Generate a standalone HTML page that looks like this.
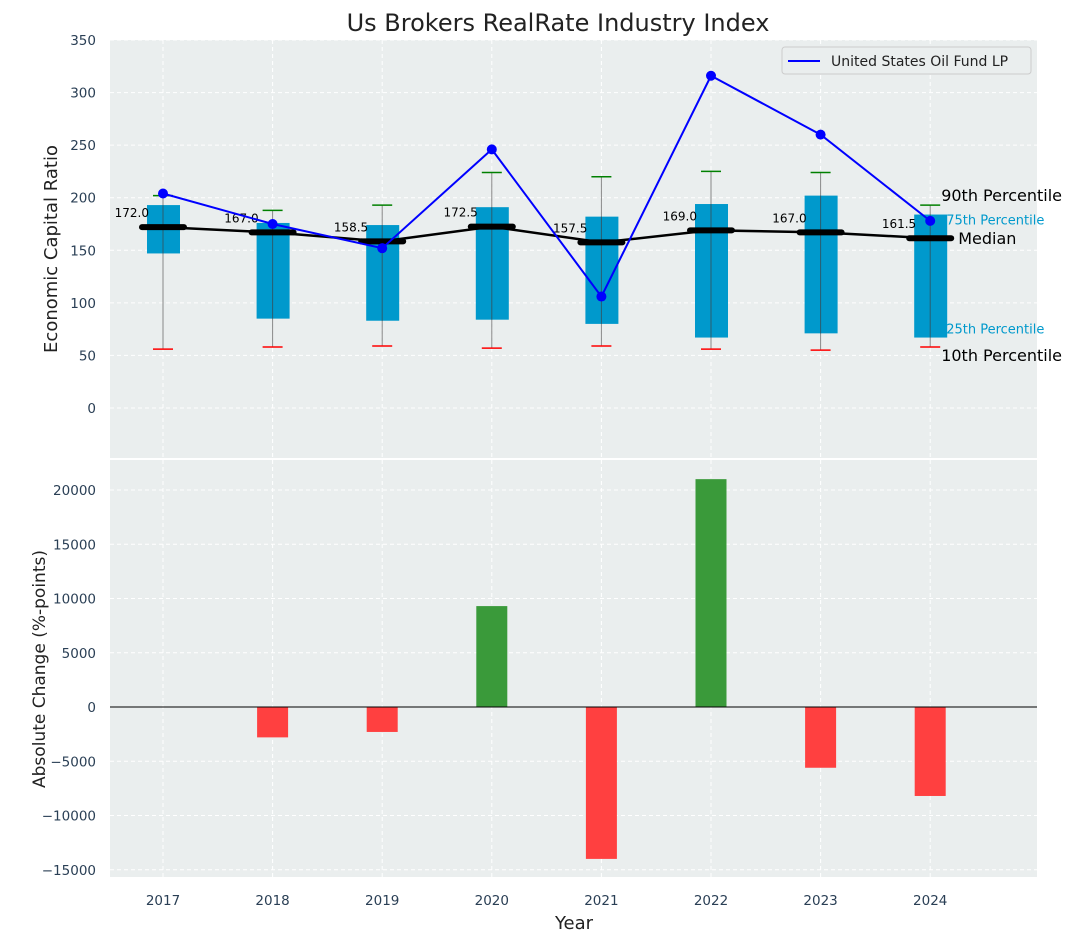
<!DOCTYPE html>
<html><head><meta charset="utf-8"><style>
body{margin:0;background:#fff;font-family:"Liberation Sans","DejaVu Sans",sans-serif}
svg text{font-family:"DejaVu Sans","Liberation Sans",sans-serif}
</style></head><body>
<svg id="c" width="1076" height="942" xmlns="http://www.w3.org/2000/svg"></svg>
<script>
const years=[2017,2018,2019,2020,2021,2022,2023,2024];
const p10=[56,58,59,57,59,56,55,58];
const p25=[147,85,83,84,80,67,71,67];
const med=[172,167,158.5,172.5,157.5,169,167,161.5];
const p75=[193,176,174,191,182,194,202,184];
const p90=[202,188,193,224,220,225,224,193];
const fund=[204,175,152,246,106,316,260,178];
const change=[0,-2800,-2300,9300,-14000,21000,-5600,-8200];
const yTicksTop=[0,50,100,150,200,250,300,350];
const yTicksBot=[-15000,-10000,-5000,0,5000,10000,15000,20000];

const S=document.getElementById('c');const NS='http://www.w3.org/2000/svg';
function el(t,a,p){const e=document.createElementNS(NS,t);for(const k in a)e.setAttribute(k,a[k]);(p||S).appendChild(e);return e;}
const L=110,R=1037;
const x=y=>163+(y-2017)*109.6;
const yt=v=>408-v*1.0514;
const yb=v=>707-v*0.01085;

let r=el('rect',{x:L,y:40,width:R-L,height:418,fill:'#eaeeee'});

r=el('rect',{x:L,y:460,width:R-L,height:417,fill:'#eaeeee'});


yTicksTop.forEach(v=>{el('line',{x1:L,x2:R,y1:yt(v),y2:yt(v),stroke:'#fff','stroke-dasharray':'4,3'});
 const t=el('text',{x:96,y:yt(v)+5,'text-anchor':'end','font-size':13.5,fill:'#2a3f55'});t.textContent=v;
 });
yTicksBot.forEach(v=>{el('line',{x1:L,x2:R,y1:yb(v),y2:yb(v),stroke:'#fff','stroke-dasharray':'4,3'});
 const t=el('text',{x:96,y:yb(v)+5,'text-anchor':'end','font-size':13.5,fill:'#2a3f55'});t.textContent=v<0?'\u2212'+(-v):v;
 });
years.forEach(y=>{el('line',{x1:x(y),x2:x(y),y1:40,y2:458,stroke:'#fff','stroke-dasharray':'4,3'});
 el('line',{x1:x(y),x2:x(y),y1:460,y2:877,stroke:'#fff','stroke-dasharray':'4,3'});
 const t=el('text',{x:x(y),y:905,'text-anchor':'middle','font-size':13.5,fill:'#2a3f55'});t.textContent=y;
 });

years.forEach((y,i)=>{const cx=x(y);
 let w=el('line',{x1:cx,x2:cx,y1:yt(p10[i]),y2:yt(p90[i]),stroke:'#888','stroke-width':1});
 
 let b=el('rect',{x:cx-16,y:yt(p75[i]),width:33,height:yt(p25[i])-yt(p75[i]),fill:'#0099cc'});
 
 el('line',{x1:cx,x2:cx,y1:yt(p75[i]),y2:yt(p25[i]),stroke:'#2b5d6e','stroke-width':1});
 el('line',{x1:cx-10,x2:cx+10,y1:yt(p90[i]),y2:yt(p90[i]),stroke:'green','stroke-width':1.5});
 el('line',{x1:cx-10,x2:cx+10,y1:yt(p10[i]),y2:yt(p10[i]),stroke:'red','stroke-width':1.5});
 let m=el('line',{x1:cx-21,x2:cx+21,y1:yt(med[i]),y2:yt(med[i]),stroke:'#000','stroke-width':6,'stroke-linecap':'round'});
 
 let t=el('text',{x:cx-14,y:yt(med[i])-10,'text-anchor':'end','font-size':12,fill:'#000'});t.textContent=med[i].toFixed(1);
 
});
let ml=el('polyline',{points:years.map((y,i)=>x(y)+','+yt(med[i])).join(' '),fill:'none',stroke:'#000','stroke-width':2.5});

let fl=el('polyline',{points:years.map((y,i)=>x(y)+','+yt(fund[i])).join(' '),fill:'none',stroke:'blue','stroke-width':2});

years.forEach((y,i)=>{const c=el('circle',{cx:x(y),cy:yt(fund[i]),r:5,fill:'blue'});
 });

const last=years.length-1,lx=x(years[last]);
[['90th Percentile',lx+11,yt(p90[last])-4,16,'#000'],['75th Percentile',lx+16,yt(p75[last])+10,13,'#0099cc'],
 ['Median',lx+28,yt(med[last])+6,16,'#000'],['25th Percentile',lx+16,yt(p25[last])-4,13,'#0099cc'],
 ['10th Percentile',lx+11,yt(p10[last])+14,16,'#000']].forEach(a=>{
 const t=el('text',{x:a[1],y:a[2],'font-size':a[3],fill:a[4]});t.textContent=a[0];
 });

years.forEach((y,i)=>{const v=change[i];if(!v)return;
 const b=el('rect',{x:x(y)-15.5,y:Math.min(yb(v),yb(0)),width:31,height:Math.abs(yb(v)-yb(0)),fill:v>0?'#3a9a3a':'#ff4040'});
 });
el('line',{x1:L,x2:R,y1:yb(0),y2:yb(0),stroke:'#000','stroke-width':1});

const g=el('g',{});
el('rect',{x:782,y:47,width:249,height:27,rx:3,fill:'#eaeeee',stroke:'#ccc'},g);
el('line',{x1:788,x2:820,y1:61,y2:61,stroke:'blue','stroke-width':2},g);
let lt=el('text',{x:831,y:66,'font-size':14,fill:'#222'},g);lt.textContent='United States Oil Fund LP';

let t=el('text',{x:558,y:31,'text-anchor':'middle','font-size':24,fill:'#222'});t.textContent='Us Brokers RealRate Industry Index';

t=el('text',{x:0,y:0,'text-anchor':'middle','font-size':18,fill:'#222',transform:'translate(57,249) rotate(-90)'});t.textContent='Economic Capital Ratio';

t=el('text',{x:0,y:0,'text-anchor':'middle','font-size':17,fill:'#222',transform:'translate(45,669) rotate(-90)'});t.textContent='Absolute Change (%-points)';

t=el('text',{x:574,y:929,'text-anchor':'middle','font-size':18,fill:'#222'});t.textContent='Year';

</script>
</body></html>
